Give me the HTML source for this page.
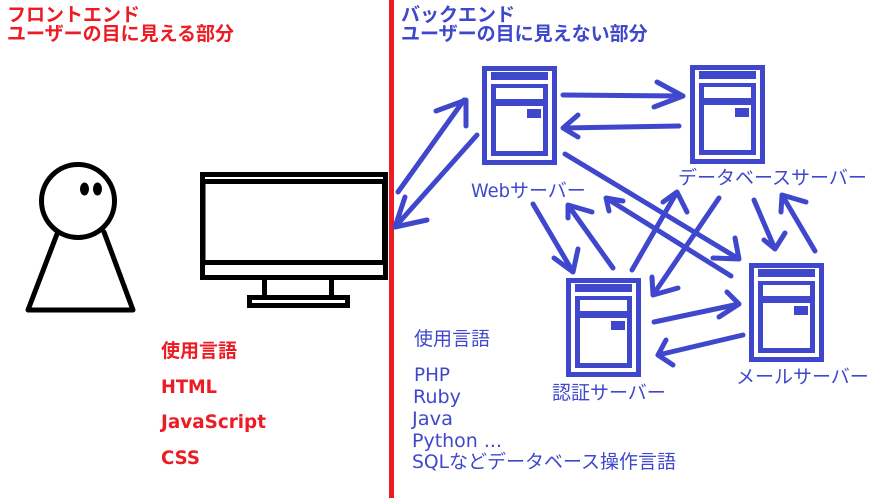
<!DOCTYPE html>
<html lang="ja">
<head>
<meta charset="utf-8">
<title>フロントエンドとバックエンド</title>
<style>
html,body{margin:0;padding:0;background:#fff;width:887px;height:498px;overflow:hidden}
svg{display:block}
text{font-family:"Liberation Sans","Noto Sans CJK JP",sans-serif;font-size:19px}
.r{fill:#ed1c24;font-weight:bold}
.b{fill:#3f48cc}
.bb{fill:#3f48cc;font-weight:bold}
.l{font-family:"DejaVu Sans",sans-serif;font-size:19px}
.a{fill:none;stroke:#3f48cc;stroke-width:5;stroke-linecap:round;stroke-linejoin:round}
</style>
</head>
<body>
<svg width="887" height="498" viewBox="0 0 887 498" xmlns="http://www.w3.org/2000/svg">
<defs>
<g id="srv" fill="#3f48cc">
<path fill-rule="evenodd" d="M0 0H75V99H0ZM5 5V94H70V5Z"/>
<rect x="9" y="6" width="57" height="8"/>
<path fill-rule="evenodd" d="M9 18H66V90H9ZM14 22V33H61V22ZM14 40V85H61V40Z"/>
<rect x="45" y="43" width="14" height="9"/>
</g>
</defs>
<rect x="389" y="0" width="5" height="498" fill="#ed1c24"/>

<!-- person -->
<g fill="none" stroke="#000" stroke-width="5" stroke-linecap="round" stroke-linejoin="round">
<circle cx="78" cy="201" r="36.5"/>
<path d="M57 234L28 310H133L104 232"/>
</g>
<ellipse cx="84.5" cy="189" rx="4.5" ry="6.5"/>
<ellipse cx="97.5" cy="189" rx="4.5" ry="6.5"/>

<!-- monitor -->
<g fill="#000">
<path fill-rule="evenodd" d="M200 172H388V280H200ZM205 177V179H383V177ZM205.500 184V260H382V184ZM205 265V275H383V265Z"/>
<rect x="262" y="280" width="5" height="15"/>
<rect x="329" y="280" width="5" height="15"/>
<path fill-rule="evenodd" d="M247 295H350V308H247ZM252 300V303H345V300Z"/>
</g>

<!-- servers -->
<use href="#srv" x="482" y="66"/>
<use href="#srv" x="690" y="65"/>
<use href="#srv" x="566" y="278"/>
<use href="#srv" x="749" y="263"/>

<!-- arrows -->
<path class="a" d="M398 192L464 100M436 111L466 100L466 126"/>
<path class="a" d="M477 135L395 227M405 197L395 227L427 220"/>
<path class="a" d="M563 95L683 96M657 82L683 96L654 107"/>
<path class="a" d="M679 126L563 128M578 115L563 128L578 137"/>
<path class="a" d="M565 154L739 259M735 238L739 259L713 258"/>
<path class="a" d="M731 276L606 198M609 211L606 198L623 201"/>
<path class="a" d="M533 204L573 272M578 249L573 272L554 258"/>
<path class="a" d="M613 268L568 205M568 218L568 205L592 212"/>
<path class="a" d="M632 270L677 192M663 202L677 192L687 212"/>
<path class="a" d="M719 198L653 295M652 277L653 295L678 288"/>
<path class="a" d="M754 200L775 249M764 240L775 249L785 233"/>
<path class="a" d="M815 251L782 195M781 212L782 195L806 202"/>
<path class="a" d="M654 322L739 304M727 292L739 304L719 317"/>
<path class="a" d="M743 335L658 355M666 340L658 355L673 365"/>

<!-- text -->
<text class="r" x="7" y="21">フロントエンド</text>
<text class="r" x="7" y="40">ユーザーの目に見える部分</text>
<text class="bb" x="401" y="21">バックエンド</text>
<text class="bb" x="401" y="40">ユーザーの目に見えない部分</text>

<text class="b l" x="471" y="197" textLength="39" lengthAdjust="spacingAndGlyphs">Web</text>
<text class="b" x="510" y="197">サーバー</text>
<text class="b" x="678" y="184">データベースサーバー</text>
<text class="b" x="552" y="399">認証サーバー</text>
<text class="b" x="736" y="383">メールサーバー</text>

<text class="r" x="161" y="357">使用言語</text>
<text class="r l" x="161" y="393" textLength="56" lengthAdjust="spacingAndGlyphs">HTML</text>
<text class="r l" x="161" y="428" textLength="105" lengthAdjust="spacingAndGlyphs">JavaScript</text>
<text class="r l" x="161" y="464" textLength="39" lengthAdjust="spacingAndGlyphs">CSS</text>

<text class="b" x="414" y="345">使用言語</text>
<text class="b l" x="414" y="381" textLength="36" lengthAdjust="spacingAndGlyphs">PHP</text>
<text class="b l" x="413" y="403" textLength="48" lengthAdjust="spacingAndGlyphs">Ruby</text>
<text class="b l" x="412" y="425" textLength="41" lengthAdjust="spacingAndGlyphs">Java</text>
<text class="b l" x="412" y="447" textLength="90" lengthAdjust="spacingAndGlyphs">Python ...</text>
<text class="b l" x="412" y="468" textLength="37" lengthAdjust="spacingAndGlyphs">SQL</text>
<text class="b" x="449" y="468">などデータベース操作言語</text>
</svg>
</body>
</html>
